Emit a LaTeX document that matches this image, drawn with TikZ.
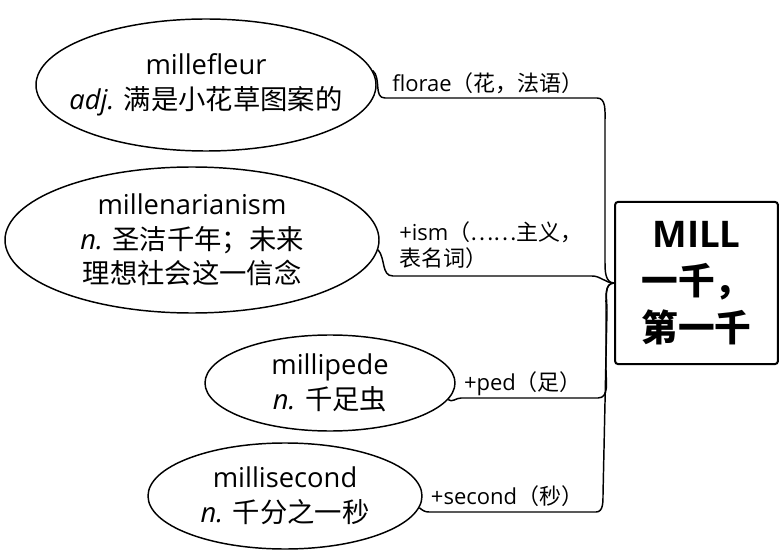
\documentclass[tikz,border=0pt]{standalone}
\usepackage{fontspec}
\setmainfont{Open Sans}
\newfontfamily\cjk{Noto Sans CJK SC}
\usetikzlibrary{shapes.geometric}

\begin{document}
\begin{tikzpicture}[x=0.75pt, y=0.75pt,
		word/.style={ellipse, draw=black, line width=1.1pt, inner xsep=-40pt, inner ysep=-15pt, align=center, font=\fontsize{20.5}{26}\selectfont},
		root/.style={rectangle, draw=black, line width=1.5pt, rounded corners=2pt, minimum width=122pt, minimum height=121.5pt, align=center, font=\fontsize{27.5}{35}\selectfont\bfseries},
		tag/.style={inner sep=0pt, font=\fontsize{16.5}{20}\selectfont},
		link/.style={line width=1.1pt}]
		
		\useasboundingbox (0,0) rectangle (782,-556);
		
		% Root box
		\node[root] (box) at (696.5,-283) {MILL\\{\cjk 一千，}\\{\cjk 第一千}};
		
		% Words
		\node[word, minimum width=255pt, minimum height=99pt] (m1) at (206,-85) {millefleur\\\textit{adj.} {\cjk 满是小花草图案的}};
		\node[word, minimum width=280.5pt, minimum height=109.5pt] (m2) at (192,-240) {millenarianism\\\textit{n.} {\cjk 圣洁千年；未来}\\{\cjk 理想社会这一信念}};
		\node[word, minimum width=187.5pt, minimum height=72pt] (m3) at (330,-383) {millipede\\\textit{n.} {\cjk 千足虫}};
		\node[word, minimum width=205.5pt, minimum height=79.5pt] (m4) at (285,-496) {millisecond\\\textit{n.} {\cjk 千分之一秒}};
		
		% Labels on the branches
		\node[tag] (l1) at (488,-83) {florae{\cjk （花，法语）}};
		\node[tag, align=left, anchor=west] (l2) at (399,-245) {+ism{\cjk （……主义，}\\{\cjk 表名词）}};
		\node[tag] (l3) at (523,-384) {+ped{\cjk （足）}};
		\node[tag] (l4) at (507,-496) {+second{\cjk （秒）}};
		
		% Underline ends
		\coordinate (u1a) at (385,-98);
		\coordinate (u1b) at (597,-98);
		\coordinate (u2a) at (393,-276);
		\coordinate (u2b) at (592,-276);
		\coordinate (u3a) at (461,-398);
		\coordinate (u3b) at (598,-398);
		\coordinate (u4a) at (429,-512);
		\coordinate (u4b) at (596,-512);
		
		% Branches
		\draw[link] (m1.5) to[out=-40,in=180] (u1a) -- (u1b) to[out=0,in=90] (605,-120) -- (605,-262) to[out=-90,in=180] (box.west);
		\draw[link] (m2.-3) to[out=-50,in=180] (u2a) -- (u2b) to[out=0,in=180] (box.west);
		\draw[link] (m3.-8) to[out=-40,in=180] (u3a) -- (u3b) to[out=0,in=-90] (606,-370) -- (606,-305) to[out=90,in=180] (box.west);
		\draw[link] (m4.-5) to[out=-40,in=180] (u4a) -- (u4b) to[out=0,in=-90] (603,-495) -- (607,-310) to[out=90,in=180] (box.west);
	\end{tikzpicture}
\end{document}
